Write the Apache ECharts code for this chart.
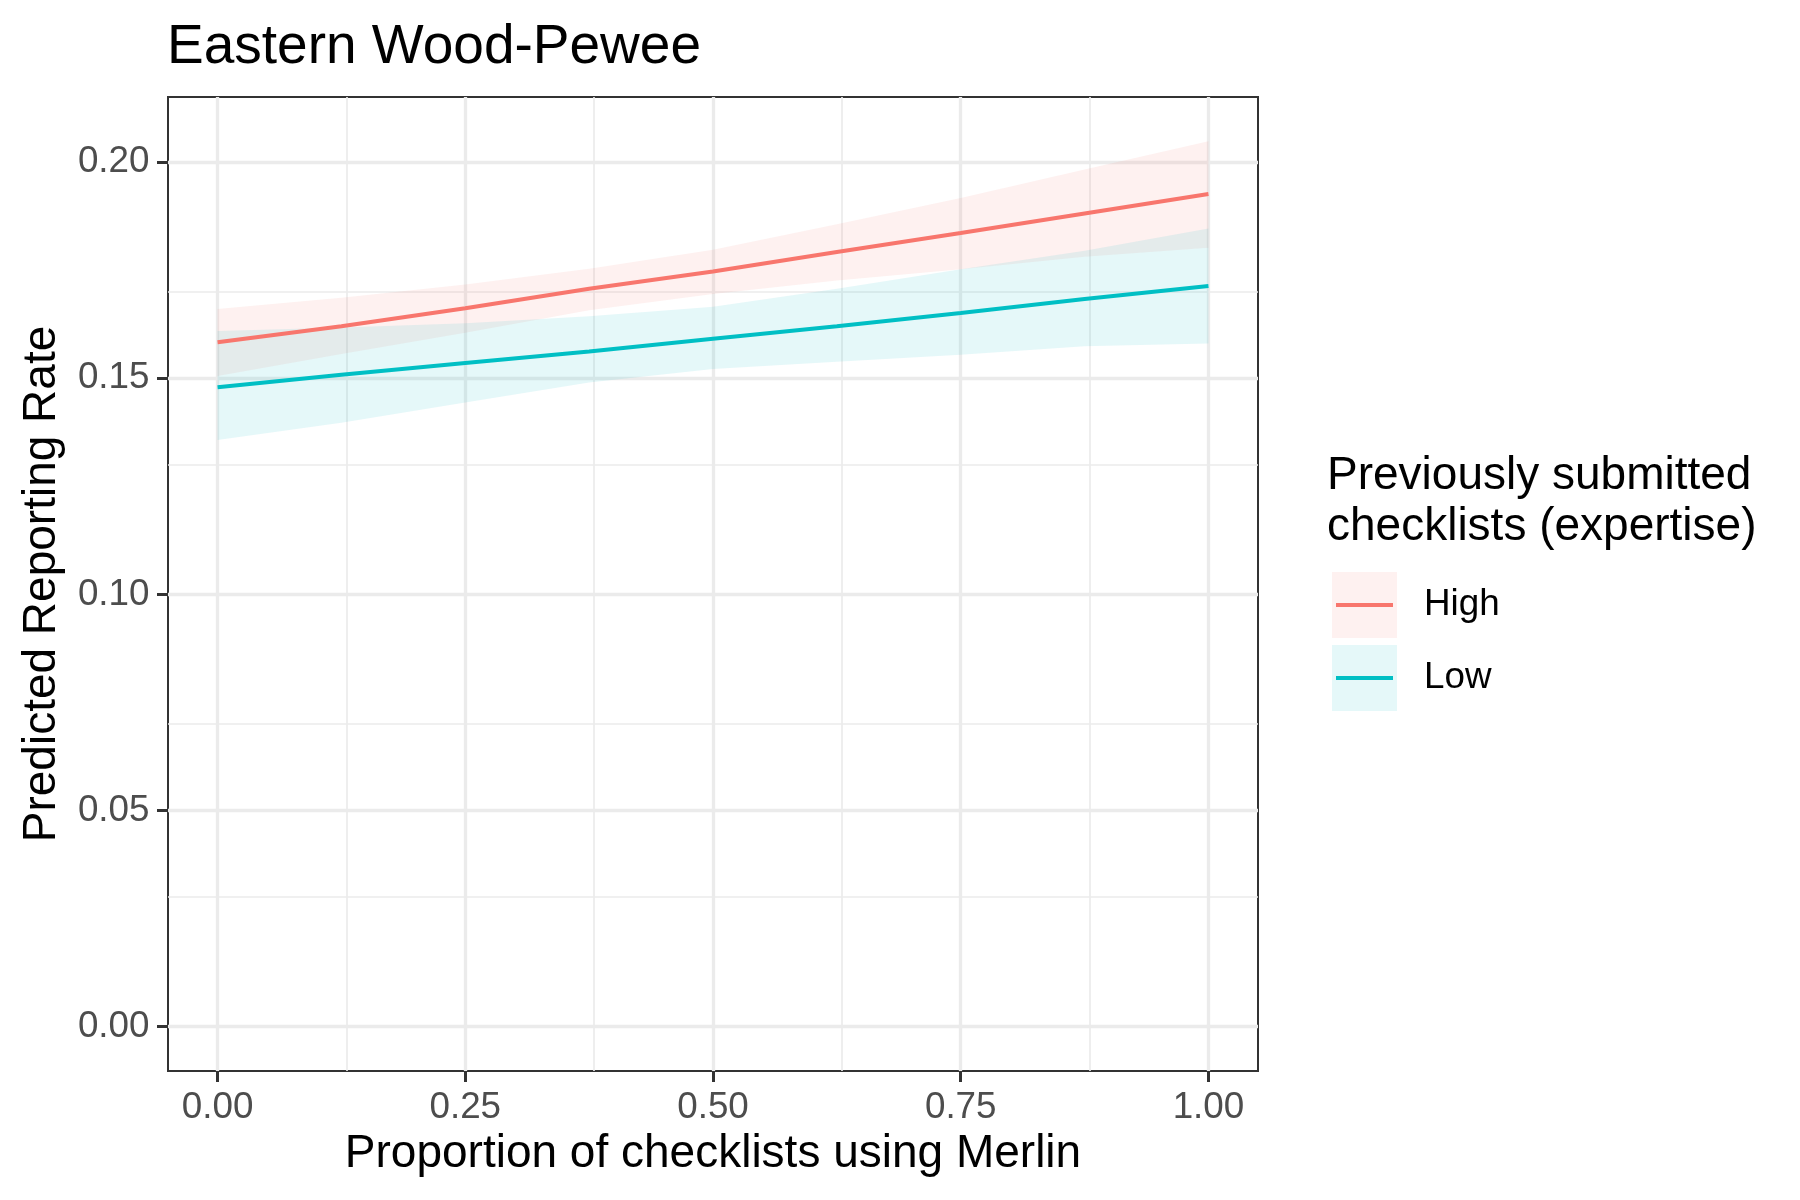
<!DOCTYPE html>
<html>
<head>
<meta charset="utf-8">
<title>Eastern Wood-Pewee</title>
<script src="https://cdn.jsdelivr.net/npm/echarts@6/dist/echarts.min.js"></script>
<style>
  html, body { margin: 0; background: #fff; }
  #chart { width: 1800px; height: 1200px; }
</style>
</head>
<body>
<div id="chart"></div>
<script>
// proportion of checklists using Merlin
const xs = [0, 0.125, 0.25, 0.375, 0.5, 0.625, 0.75, 0.875, 1];

// High expertise: fit and ribbon
const highFit = [0.1583, 0.1620, 0.1662, 0.1707, 0.1747, 0.1792, 0.1836, 0.1881, 0.1926];
const highLower = [0.1505, 0.1556, 0.1605, 0.1657, 0.1695, 0.1726, 0.1752, 0.1781, 0.1802];
const highUpper = [0.1660, 0.1686, 0.1717, 0.1753, 0.1797, 0.1856, 0.1917, 0.1983, 0.2048];

// Low expertise: fit and ribbon
const lowFit = [0.1479, 0.1508, 0.1535, 0.1562, 0.1591, 0.1620, 0.1651, 0.1683, 0.1713];
const lowLower = [0.1357, 0.1397, 0.1444, 0.1490, 0.1521, 0.1538, 0.1554, 0.1574, 0.1580];
const lowUpper = [0.1609, 0.1617, 0.1627, 0.1643, 0.1665, 0.1707, 0.1752, 0.1795, 0.1846];

// breaks
const xMajor = [0, 0.25, 0.5, 0.75, 1];
const xMinor = [0.125, 0.375, 0.625, 0.875];
const yMajor = [0, 0.05, 0.1, 0.15, 0.2];
const yMinor = [0.025, 0.075, 0.125, 0.175];
const xLimits = [-0.05, 1.05];
const yLimits = [-0.01024, 0.21504];

const FONT = '"Liberation Sans", Arial, Helvetica, sans-serif';
const RED = '#F8766D';
const TEAL = '#00BFC4';
const RED_FILL = 'rgba(248,118,109,0.1)';
const TEAL_FILL = 'rgba(0,191,196,0.1)';
const GRID = '#EBEBEB';

const pairs = (ys) => xs.map((x, i) => [x, ys[i]]);
const triples = (lo, hi) => xs.map((x, i) => [x, lo[i], hi[i]]);

// one polygon per ribbon, drawn on the first item only
const ribbon = (lo, hi, fill) => (params, api) => {
  if (params.dataIndex !== 0) return null;
  const top = xs.map((x, i) => api.coord([x, hi[i]]));
  const bottom = xs.map((x, i) => api.coord([x, lo[i]])).reverse();
  return {
    type: 'polygon',
    silent: true,
    shape: { points: top.concat(bottom) },
    style: { fill: fill },
  };
};

const gridLines = [
  ...yMinor.map((v) => ({ yAxis: v, lineStyle: { width: 1.7 } })),
  ...xMinor.map((v) => ({ xAxis: v, lineStyle: { width: 1.7 } })),
  ...yMajor.map((v) => ({ yAxis: v, lineStyle: { width: 3.3 } })),
  ...xMajor.map((v) => ({ xAxis: v, lineStyle: { width: 3.3 } })),
];

const chart = echarts.init(document.getElementById('chart'), null, { renderer: 'canvas' });

chart.setOption({
  animation: false,
  backgroundColor: '#fff',
  title: [
    {
      text: 'Eastern Wood-Pewee',
      left: 167,
      top: 20,
      padding: 0,
      textStyle: { fontFamily: FONT, fontSize: 55, fontWeight: 'normal', color: '#000', lineHeight: 55 },
    },
    {
      text: 'Previously submitted\nchecklists (expertise)',
      left: 1327,
      top: 451,
      padding: 0,
      textStyle: { fontFamily: FONT, fontSize: 46, fontWeight: 'normal', color: '#000', lineHeight: 51 },
    },
  ],
  legend: [
    {
      data: ['High ribbon', 'Low ribbon'],
      orient: 'vertical',
      left: 1332,
      top: 572,
      padding: 0,
      itemWidth: 65,
      itemHeight: 66,
      itemGap: 7,
      icon: 'rect',
      itemStyle: { borderWidth: 0 },
      selectedMode: false,
      formatter: () => '',
    },
    {
      data: ['High', 'Low'],
      orient: 'vertical',
      left: 1336,
      top: 572,
      padding: 0,
      itemWidth: 57,
      itemHeight: 4,
      itemGap: 7,
      icon: 'rect',
      itemStyle: { borderWidth: 0 },
      selectedMode: false,
      textStyle: { fontFamily: FONT, fontSize: 36.8, color: '#000', lineHeight: 66, padding: [0, 0, 0, 26] },
    },
  ],
  grid: {
    left: 168,
    right: 542,
    top: 97,
    bottom: 129,
    show: true,
    backgroundColor: '#fff',
    borderColor: '#333333',
    borderWidth: 2,
  },
  xAxis: {
    type: 'value',
    min: xLimits[0],
    max: xLimits[1],
    name: 'Proportion of checklists using Merlin',
    nameLocation: 'middle',
    nameGap: 60,
    nameTextStyle: { fontFamily: FONT, fontSize: 46, color: '#000' },
    axisLine: { show: false, onZero: false },
    axisTick: { show: true, length: 11, customValues: xMajor, lineStyle: { color: '#333333', width: 3 } },
    axisLabel: {
      customValues: xMajor,
      formatter: (v) => v.toFixed(2),
      fontFamily: FONT,
      fontSize: 36.8,
      color: '#4D4D4D',
      margin: 18,
    },
    splitLine: { show: false },
  },
  yAxis: {
    type: 'value',
    min: yLimits[0],
    max: yLimits[1],
    name: 'Predicted Reporting Rate',
    nameLocation: 'middle',
    nameGap: 103,
    nameTextStyle: { fontFamily: FONT, fontSize: 46, color: '#000' },
    axisLine: { show: false, onZero: false },
    axisTick: { show: true, length: 11, customValues: yMajor, lineStyle: { color: '#333333', width: 3 } },
    axisLabel: {
      customValues: yMajor,
      formatter: (v) => v.toFixed(2),
      fontFamily: FONT,
      fontSize: 36.8,
      color: '#4D4D4D',
      margin: 18.5,
    },
    splitLine: { show: false },
  },
  series: [
    {
      name: 'High ribbon',
      type: 'custom',
      silent: true,
      itemStyle: { color: RED_FILL },
      encode: { x: 0, y: [1, 2] },
      renderItem: ribbon(highLower, highUpper, RED_FILL),
      data: triples(highLower, highUpper),
      z: 2,
      markLine: {
        silent: true,
        symbol: ['none', 'none'],
        label: { show: false },
        lineStyle: { color: GRID, type: 'solid' },
        emphasis: { disabled: true },
        animation: false,
        z: 1,
        data: gridLines,
      },
    },
    {
      name: 'Low ribbon',
      type: 'custom',
      silent: true,
      itemStyle: { color: TEAL_FILL },
      encode: { x: 0, y: [1, 2] },
      renderItem: ribbon(lowLower, lowUpper, TEAL_FILL),
      data: triples(lowLower, lowUpper),
      z: 2,
    },
    {
      name: 'High',
      type: 'line',
      symbol: 'none',
      color: RED,
      lineStyle: { color: RED, width: 4 },
      data: pairs(highFit),
      z: 3,
    },
    {
      name: 'Low',
      type: 'line',
      symbol: 'none',
      color: TEAL,
      lineStyle: { color: TEAL, width: 4 },
      data: pairs(lowFit),
      z: 3,
    },
  ],
});
</script>
</body>
</html>
